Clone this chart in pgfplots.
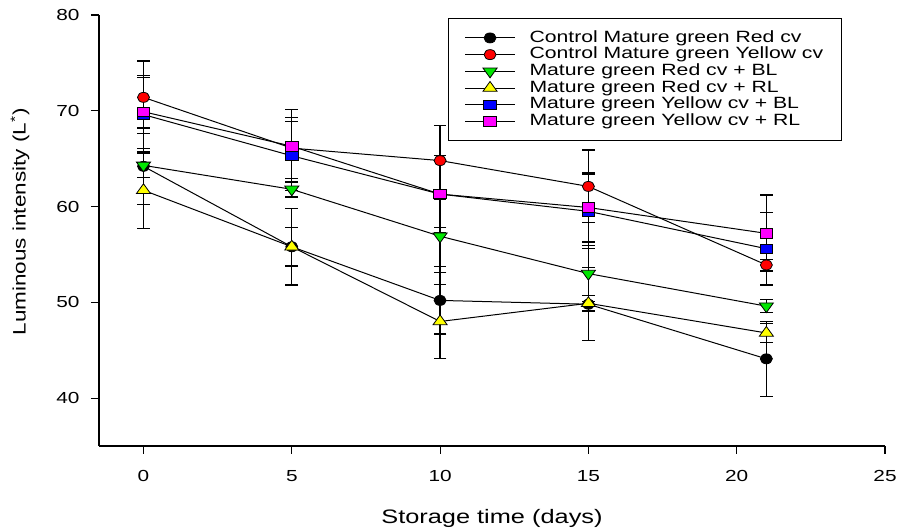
\documentclass[border=0pt]{standalone}
\usepackage{fontspec}
\setmainfont{Liberation Sans}
\usepackage{graphicx}
\usepackage{pgfplots}
\usepackage{pgfplotstable}
\pgfplotsset{compat=1.18}
\newcommand{\sx}[1]{\scalebox{1.3}[1]{#1}}
\definecolor{mygreen}{RGB}{0,230,0}
\definecolor{myyellow}{RGB}{255,255,0}
\definecolor{myblue}{RGB}{0,0,255}
\definecolor{mymag}{RGB}{255,0,255}
\pgfplotstableread{
x y e
0 64.2 4.0
5 55.8 4.0
10 50.2 3.5
15 49.8 3.8
21 44.1 3.9
}\tblA
\pgfplotstableread{
x y e
0 71.4 3.8
5 66.1 3.2
10 64.8 3.7
15 62.1 3.8
21 53.9 0.6
}\tblB
\pgfplotstableread{
x y e
0 64.3 1.3
5 61.8 0.8
10 56.9 3.8
15 53.0 2.9
21 49.6 0.7
}\tblC
\pgfplotstableread{
x y e
0 61.7 4.0
5 55.8 2.0
10 48.0 3.9
15 49.9 0.8
21 46.8 1.0
}\tblD
\pgfplotstableread{
x y e
0 69.6 3.9
5 65.3 3.6
10 61.3 3.5
15 59.5 3.9
21 55.6 3.8
}\tblE
\pgfplotstableread{
x y e
0 69.9 3.8
5 66.3 3.8
10 61.3 4.0
15 59.9 3.6
21 57.2 4.0
}\tblF
\begin{document}
\begin{tikzpicture}
\useasboundingbox (-99pt,-83pt) rectangle (799pt,446pt);
\begin{axis}[
  scale only axis, width=786pt, height=431pt,
  xmin=-1.5, xmax=25, ymin=35, ymax=80,
  axis x line*=bottom, axis y line*=left,
  xtick={0,5,...,25}, ytick={40,50,...,80},
  minor tick num=0,
  tick align=outside, major tick length=8pt,
  tick style={line width=1.1pt, black},
  axis line style={line width=1.1pt, black},
  /pgf/number format/assume math mode=true,
  xticklabel={\sx{\pgfmathprintnumber{\tick}}},
  yticklabel={\sx{\pgfmathprintnumber{\tick}}},
  ticklabel style={font=\fontsize{16}{19}\selectfont},
  xticklabel style={yshift=-13pt},
  yticklabel style={xshift=-8pt},
  xlabel={\sx{Storage time (days)}},
  xlabel style={font=\fontsize{19.5}{23}\selectfont, at={(axis description cs:0.5,0)}, anchor=center, yshift=-72pt},
  ylabel={\scalebox{1.25}[1]{Luminous intensity (L\textsuperscript{*})}},
  ylabel style={font=\fontsize{18}{21}\selectfont, at={(axis description cs:-0.1005,0.52)}, anchor=center},
  legend style={at={(axis description cs:0.444,0.993)}, anchor=north west, draw=black, line width=1.1pt,
    font=\fontsize{16.3}{17}\selectfont, inner xsep=16pt, inner ysep=11pt, row sep=0pt,
    nodes={inner ysep=0.3pt, text height=12.3pt, text depth=3.8pt},
    /tikz/every odd column/.append style={column sep=12pt}},
  legend cell align=left,
  legend image code/.code={\draw[mark repeat=2,mark phase=2,line width=1pt] plot coordinates {(0pt,0pt) (25pt,0pt) (50pt,0pt)};},
  every axis plot/.append style={line width=1pt, black},
  error bars/y dir=both, error bars/y explicit,
  error bars/error mark=-,
  error bars/error bar style={line width=1.3pt, black},
  error bars/error mark options={rotate=90, line width=1.2pt, mark size=6.3pt, black},
]
\addplot[mark=*, mark options={solid, fill=black, draw=black, line width=0.8pt, xscale=1.2, mark size=5pt}] table[x=x,y=y,y error=e] {\tblA};
\addlegendentry{\sx{Control Mature green Red cv}}
\addplot[mark=*, mark options={solid, fill=red, draw=black, line width=0.8pt, xscale=1.2, mark size=5pt}] table[x=x,y=y,y error=e] {\tblB};
\addlegendentry{\sx{Control Mature green Yellow cv}}
\addplot[mark=triangle*, mark options={solid, fill=mygreen, draw=black, line width=0.8pt, xscale=1.25, mark size=6.5pt, rotate=180}] table[x=x,y=y,y error=e] {\tblC};
\addlegendentry{\sx{Mature green Red cv + BL}}
\addplot[mark=triangle*, mark options={solid, fill=myyellow, draw=black, line width=0.8pt, xscale=1.25, mark size=6.5pt}] table[x=x,y=y,y error=e] {\tblD};
\addlegendentry{\sx{Mature green Red cv + RL}}
\addplot[mark=square*, mark options={solid, fill=myblue, draw=black, line width=0.8pt, xscale=1.35, mark size=4.7pt}] table[x=x,y=y,y error=e] {\tblE};
\addlegendentry{\sx{Mature green Yellow cv + BL}}
\addplot[mark=square*, mark options={solid, fill=mymag, draw=black, line width=0.8pt, xscale=1.35, mark size=4.7pt}] table[x=x,y=y,y error=e] {\tblF};
\addlegendentry{\sx{Mature green Yellow cv + RL}}
\end{axis}
\end{tikzpicture}
\end{document}
